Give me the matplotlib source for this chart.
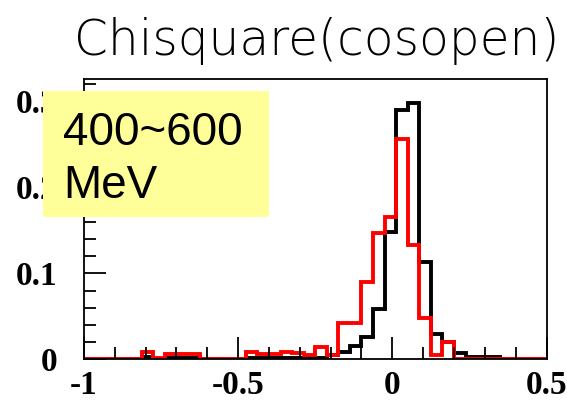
import numpy as np
import matplotlib
matplotlib.use("Agg")
import matplotlib.pyplot as plt
from matplotlib.patches import Rectangle
from matplotlib.ticker import MultipleLocator, FixedLocator

# 40 bins of cos(opening angle) from -1 to 0.5
bin_lo, bin_hi, n_bins = -1.0, 0.5, 40

# normalised contents, black = reference sample, red = chisquare selection
black_vals = [0, 0, 0, 0, 0, 0.003, 0, 0.002, 0.002, 0.002,
              0, 0, 0, 0, 0.001, 0.001, 0.001, 0.002, 0.002, 0.002,
              0.002, 0.005, 0.008, 0.016, 0.026, 0.058, 0.148, 0.290, 0.298, 0.1135,
              0.030, 0.0205, 0.007, 0.003, 0.003, 0.003, 0, 0, 0, 0]
red_vals = [0, 0, 0, 0, 0, 0.009, 0.002, 0.006, 0.006, 0.006,
            0, 0, 0, 0, 0.008, 0.006, 0.006, 0.008, 0.007, 0.005,
            0.014, 0.005, 0.042, 0.042, 0.0895, 0.1465, 0.166, 0.256, 0.133, 0.0477,
            0.005, 0.0198, 0, 0, 0, 0, 0, 0, 0, 0]

xticks = [-1, -0.5, 0, 0.5]
xticklabels = ["-1", "-0.5", "0", "0.5"]
yticks = [0, 0.1, 0.2, 0.3]
yticklabels = ["0", "0.1", "0.2", "0.3"]

title = "Chisquare(cosopen)"
box_lines = ["400~600", "MeV"]

W, H = 567, 403
fig = plt.figure(figsize=(W / 100, H / 100), dpi=100)
ax = fig.add_axes([84 / W, 43.7 / H, 462.5 / W, 280.3 / H])

edges = np.linspace(bin_lo, bin_hi, n_bins + 1)
ax.stairs(black_vals, edges, color="black", lw=2.8, baseline=0)
ax.stairs(red_vals, edges, color="red", lw=2.8, baseline=0)

ax.set_xlim(bin_lo, bin_hi)
ax.set_ylim(0, 0.326)

ax.xaxis.set_major_locator(FixedLocator(xticks))
ax.set_xticklabels(xticklabels)
ax.xaxis.set_minor_locator(MultipleLocator(0.1))
ax.yaxis.set_major_locator(FixedLocator(yticks))
ax.set_yticklabels(yticklabels)
ax.yaxis.set_minor_locator(MultipleLocator(0.02))

tick_font = dict(family="Liberation Serif", weight="bold", size=24)
for lab in ax.get_xticklabels() + ax.get_yticklabels():
    lab.set_fontproperties(matplotlib.font_manager.FontProperties(**tick_font))

ax.tick_params(which="both", direction="in", top=False, right=False, width=1.3, color="black")
ax.tick_params(which="major", length=15.5)
ax.tick_params(which="minor", length=8.5)
ax.tick_params(axis="x", which="major", pad=8)
ax.tick_params(axis="y", which="major", pad=19)
for sp in ax.spines.values():
    sp.set_linewidth(1.3)

fig.text(317 / W, (H - 55) / H, title, ha="center", va="baseline",
         fontsize=35, fontfamily="DejaVu Sans", fontweight="light")

# yellow label box sits over the axis labels
box = Rectangle((43 / W, (H - 217) / H), 226 / W, 126 / H, transform=fig.transFigure,
                facecolor="#ffff99", edgecolor="none", zorder=5)
fig.patches.append(box)
fig.text(63 / W, (H - 145) / H, box_lines[0], ha="left", va="baseline",
         fontsize=33, fontfamily="Liberation Sans", zorder=6)
fig.text(63 / W, (H - 198) / H, box_lines[1], ha="left", va="baseline",
         fontsize=33, fontfamily="Liberation Sans", zorder=6)

fig.savefig("out.png", dpi=100)
